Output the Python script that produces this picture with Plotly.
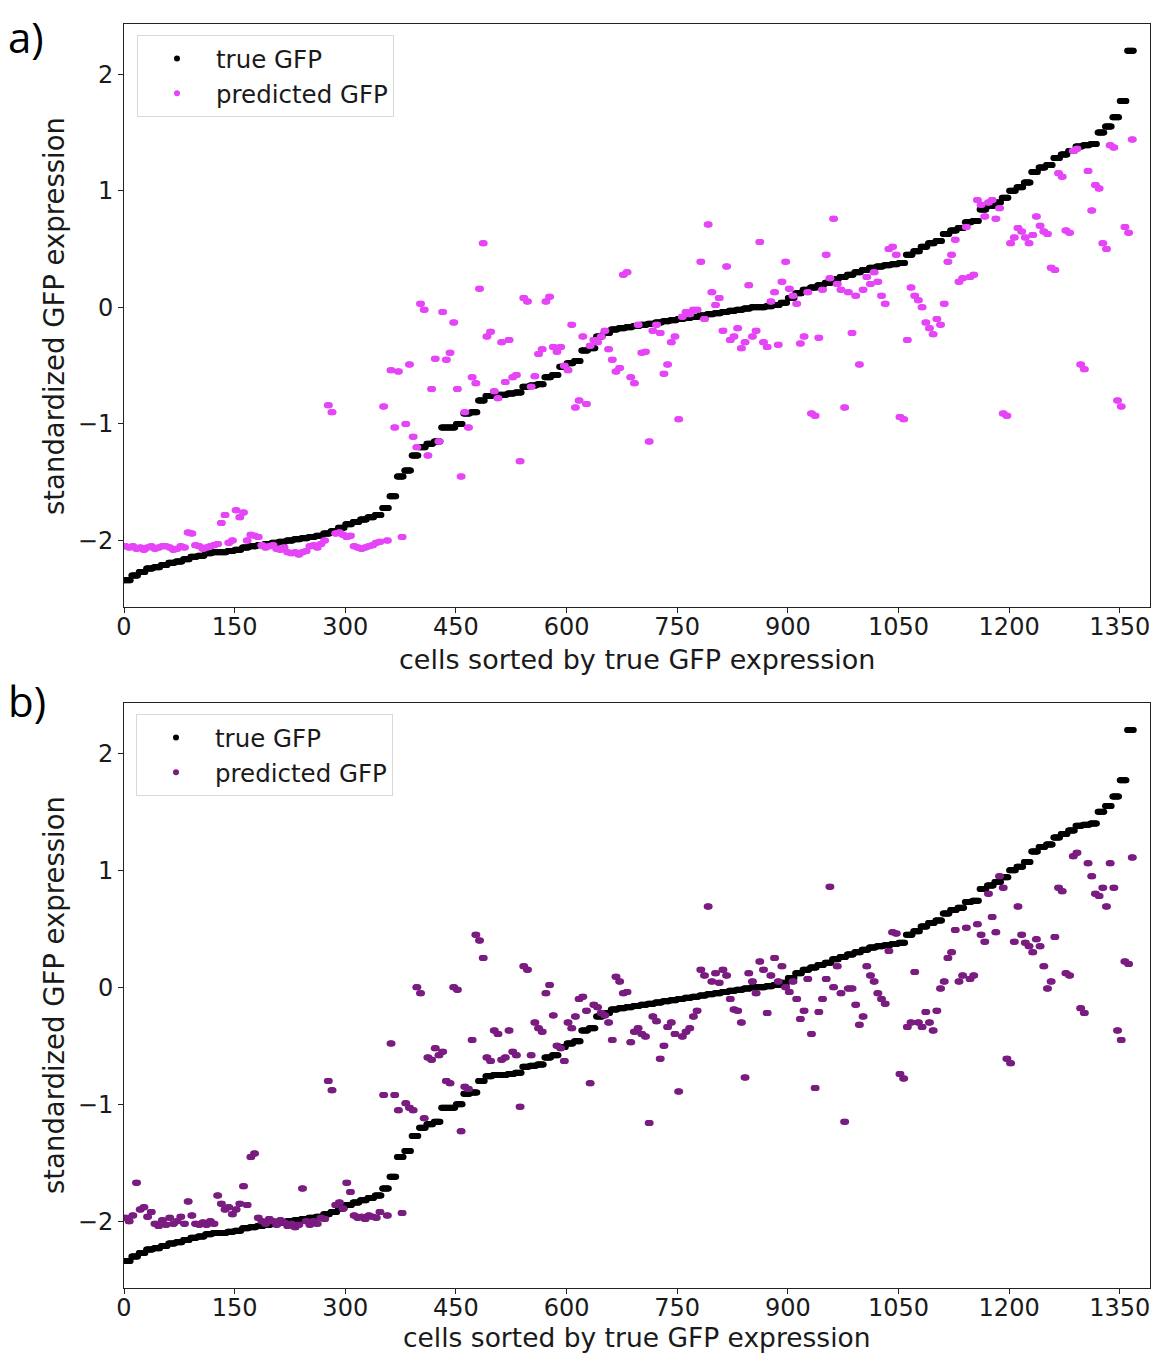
import numpy as np
import plotly.graph_objects as go

# ---------------- data ----------------
n_cells = 1370
true_group_size = 10      # cells per true-GFP step
pred_block_size = 5       # cells per predicted block

true_vals = [
    -2.34, -2.30, -2.27, -2.24, -2.23, -2.21, -2.19, -2.18, -2.16, -2.14,
    -2.13, -2.11, -2.10, -2.10, -2.09, -2.08, -2.06, -2.05, -2.04, -2.03,
    -2.02, -2.01, -2.00, -1.99, -1.98, -1.97, -1.96, -1.94, -1.92, -1.89,
    -1.86, -1.84, -1.82, -1.80, -1.78, -1.72, -1.62, -1.45, -1.40, -1.27,
    -1.20, -1.17, -1.15, -1.03, -1.03, -1.00, -0.91, -0.90, -0.80, -0.76,
    -0.75, -0.75, -0.74, -0.73, -0.68, -0.67, -0.66, -0.60, -0.58, -0.51,
    -0.48, -0.46, -0.37, -0.35, -0.25, -0.22, -0.19, -0.18, -0.17, -0.16,
    -0.15, -0.14, -0.13, -0.12, -0.11, -0.10, -0.09, -0.08, -0.07, -0.06,
    -0.05, -0.04, -0.03, -0.02, -0.01, 0.00, 0.00, 0.01, 0.02, 0.04,
    0.08, 0.12, 0.15, 0.17, 0.19, 0.21, 0.24, 0.26, 0.28, 0.30,
    0.32, 0.34, 0.35, 0.36, 0.37, 0.38, 0.45, 0.48, 0.52, 0.55,
    0.57, 0.63, 0.66, 0.68, 0.73, 0.74, 0.84, 0.87, 0.90, 0.94,
    1.00, 1.03, 1.07, 1.16, 1.20, 1.22, 1.28, 1.31, 1.34, 1.38,
    1.39, 1.40, 1.50, 1.55, 1.63, 1.77, 2.20,
]

pred_a_vals = [
    -2.05, -2.06, -2.05, -2.07, -2.06, -2.08, -2.06, -2.05, -2.07, -2.06,
    -2.05, -2.05, -2.06, -2.08, -2.07, -2.05, -2.06, -1.93, -1.94, -2.04,
    -2.05, -2.07, -2.06, -2.05, -2.04, -2.03, -1.85, -1.78, -2.02, -2.00,
    -1.74, -1.80, -1.76, -2.00, -1.95, -1.96, -1.97, -2.04, -2.06, -2.05,
    -2.04, -2.07, -2.08, -2.06, -2.10, -2.11, -2.10, -2.12, -2.10, -2.09,
    -2.05, -2.04, -2.06, -2.03, -2.00, -0.84, -0.90, -1.94, -1.93, -1.95,
    -1.97, -1.96, -2.05, -2.06, -2.07, -2.06, -2.05, -2.04, -2.02, -2.01,
    -0.85, -2.00, -0.54, -1.03, -0.55, -1.97, -1.00, -0.49, -1.11, -1.20,
    0.03, -0.02, -1.27, -0.70, -0.44, -1.15, -0.04, -0.45, -0.39, -0.13,
    -0.70, -1.45, -0.90, -1.03, -0.60, -0.65, 0.16, 0.55, -0.25, -0.21,
    -0.72, -0.78, -0.30, -0.64, -0.28, -0.60, -0.58, -1.32, 0.08, 0.05,
    -0.68, -0.59, -0.40, -0.36, 0.05, 0.09, -0.34, -0.38, -0.34, -0.50,
    -0.54, -0.15, -0.86, -0.80, -0.25, -0.83, -0.33, -0.28, -0.30, -0.25,
    -0.20, -0.36, -0.45, -0.55, -0.52, 0.28, 0.30, -0.60, -0.65, -0.15,
    -0.39, -0.38, -1.15, -0.20, -0.15, -0.22, -0.57, -0.49, -0.30, -0.25,
    -0.96, -0.08, -0.04, -0.06, -0.02, -0.02, 0.39, -0.10, 0.71, 0.13,
    0.02, 0.08, -0.20, 0.35, -0.28, -0.25, -0.18, -0.35, -0.30, 0.19,
    -0.25, -0.20, 0.56, -0.30, -0.34, 0.05, 0.13, -0.32, 0.22, 0.39,
    0.16, 0.10, 0.03, -0.31, -0.25, 0.13, -0.91, -0.93, -0.26, 0.15,
    0.45, 0.25, 0.76, 0.20, 0.15, -0.86, 0.13, -0.22, 0.10, -0.49,
    0.15, 0.26, 0.20, 0.30, 0.22, 0.10, 0.03, 0.50, 0.52, 0.45,
    -0.94, -0.96, -0.28, 0.17, 0.10, 0.06, 0.00, -0.13, -0.18, -0.23,
    -0.10, -0.15, 0.03, 0.39, 0.45, 0.58, 0.22, 0.25, 0.69, 0.26,
    0.28, 0.92, 0.88, 0.78, 0.90, 0.92, 0.76, 0.85, -0.91, -0.93,
    0.55, 0.60, 0.68, 0.65, 0.60, 0.55, 0.62, 0.78, 0.70, 0.65,
    0.63, 0.34, 0.32, 1.15, 1.12, 0.66, 0.64, 1.34, 1.36, -0.49,
    -0.53, 1.17, 0.83, 1.05, 1.02, 0.55, 0.50, 1.39, 1.37, -0.80,
    -0.85, 0.69, 0.64, 1.44,
]

pred_b_vals = [
    -1.97, -2.00, -1.95, -1.67, -1.90, -1.88, -1.96, -1.92, -2.02, -2.04,
    -1.99, -2.03, -1.97, -2.02, -2.00, -1.96, -2.02, -1.83, -1.95, -2.02,
    -2.03, -2.01, -2.03, -2.00, -2.02, -1.78, -1.85, -1.90, -1.88, -1.94,
    -1.90, -1.85, -1.70, -1.86, -1.45, -1.42, -1.97, -2.00, -2.02, -1.98,
    -2.00, -2.03, -1.99, -2.01, -2.04, -2.02, -2.05, -2.03, -1.72, -2.00,
    -2.03, -2.00, -2.02, -1.97, -1.98, -0.80, -0.88, -1.86, -1.84, -1.89,
    -1.67, -1.75, -1.95, -1.97, -1.96, -1.98, -1.95, -1.96, -1.97, -1.92,
    -0.92, -1.95, -0.48, -0.92, -1.05, -1.93, -0.99, -1.03, -1.05, 0.00,
    -0.05, -1.12, -0.60, -0.62, -0.52, -0.58, -0.55, -0.80, -0.82, 0.00,
    -0.02, -1.23, -0.85, -0.87, -0.45, 0.45, 0.40, 0.25, -0.60, -0.63,
    -0.37, -0.40, -0.62, -0.60, -0.37, -0.55, -0.58, -1.02, 0.18, 0.15,
    -0.58, -0.30, -0.35, -0.38, -0.05, 0.02, -0.24, -0.50, -0.52, -0.63,
    -0.30, -0.35, -0.25, -0.10, -0.08, -0.20, -0.82, -0.15, -0.17, -0.22,
    -0.24, -0.30, -0.45, 0.09, 0.05, -0.05, -0.04, -0.47, -0.38, -0.35,
    -0.40, -0.42, -1.16, -0.25, -0.29, -0.61, -0.50, -0.34, -0.30, -0.40,
    -0.89, -0.42, -0.38, -0.35, -0.25, -0.20, 0.15, 0.10, 0.69, 0.05,
    0.12, 0.04, 0.15, 0.10, -0.10, -0.19, -0.20, -0.30, -0.77, 0.12,
    0.05, -0.05, 0.22, 0.15, -0.22, 0.10, 0.25, 0.05, 0.18, 0.00,
    -0.04, 0.05, -0.10, -0.27, -0.20, 0.07, -0.40, -0.86, -0.21, -0.10,
    0.07, 0.86, 0.00, 0.18, -0.05, -1.15, -0.01, -0.01, -0.15, -0.32,
    -0.25, 0.18, 0.10, 0.05, -0.05, -0.10, -0.14, 0.31, 0.47, 0.46,
    -0.74, -0.78, -0.34, -0.30, 0.13, -0.30, -0.34, -0.21, -0.30, -0.37,
    -0.20, -0.01, 0.05, 0.25, 0.30, 0.49, 0.05, 0.10, 0.51, 0.07,
    0.10, 0.54, 0.45, 0.39, 0.80, 0.60, 0.47, 0.95, 0.85, -0.61,
    -0.65, 0.39, 0.69, 0.45, 0.38, 0.35, 0.30, 0.41, 0.35, 0.18,
    -0.01, 0.05, 0.43, 0.85, 0.82, 0.12, 0.10, 1.12, 1.15, -0.18,
    -0.22, 1.06, 0.95, 0.80, 0.78, 0.85, 0.69, 1.06, 0.85, -0.37,
    -0.45, 0.22, 0.20, 1.11,
]

x_ticks = [0, 150, 300, 450, 600, 750, 900, 1050, 1200, 1350]
y_ticks = [-2, -1, 0, 1, 2]
y_tick_text = ["\u22122", "\u22121", "0", "1", "2"]

# ---------------- expand blocks to cells ----------------
cells = np.arange(n_cells)
true_gfp = np.repeat(true_vals, true_group_size)[:n_cells]
pred_a = np.repeat(pred_a_vals, pred_block_size)[:n_cells]
pred_b = np.repeat(pred_b_vals, pred_block_size)[:n_cells]

W, H = 1154, 1353
def px(v):  # horizontal pixel -> paper
    return v / W
def py(v):  # vertical pixel (from top) -> paper
    return 1 - v / H

MAGENTA = "#e645f7"
PURPLE = "#7a1c80"
FONT = "DejaVu Sans"
TXT = "#1a1a1a"

fig = go.Figure()
fig.add_trace(go.Scatter(x=cells, y=true_gfp, mode="markers", name="true GFP",
                         marker=dict(color="black", size=6), xaxis="x", yaxis="y",
                         legend="legend"))
fig.add_trace(go.Scatter(x=cells, y=pred_a, mode="markers", name="predicted GFP",
                         marker=dict(color=MAGENTA, size=6), xaxis="x", yaxis="y",
                         legend="legend"))
fig.add_trace(go.Scatter(x=cells, y=true_gfp, mode="markers", name="true GFP",
                         marker=dict(color="black", size=6), xaxis="x2", yaxis="y2",
                         legend="legend2"))
fig.add_trace(go.Scatter(x=cells, y=pred_b, mode="markers", name="predicted GFP",
                         marker=dict(color=PURPLE, size=6), xaxis="x2", yaxis="y2",
                         legend="legend2"))

xdom = [px(124), px(1150)]
axis_common = dict(showline=True, mirror=True, linecolor="#222", linewidth=1,
                   ticks="outside", ticklen=5, tickcolor="#222", showgrid=False,
                   zeroline=False, automargin=False,
                   tickfont=dict(family=FONT, size=24, color=TXT))

legend_common = dict(xanchor="left", yanchor="top",
                     bgcolor="white", bordercolor="#d8d8d8", borderwidth=1,
                     font=dict(family=FONT, size=24.5, color=TXT), itemwidth=68,
                     tracegroupgap=0)

fig.update_layout(
    width=W, height=H, margin=dict(l=0, r=0, t=0, b=0, autoexpand=False),
    plot_bgcolor="white", paper_bgcolor="white",
    showlegend=True,
    xaxis=dict(domain=xdom, anchor="y", range=[0, 1391], tickvals=x_ticks,
               ticklabelstandoff=-7, **axis_common),
    yaxis=dict(domain=[py(607), py(24)], anchor="x", range=[-2.57, 2.43],
               tickvals=y_ticks, ticktext=y_tick_text, **axis_common),
    xaxis2=dict(domain=xdom, anchor="y2", range=[0, 1391], tickvals=x_ticks,
                ticklabelstandoff=-7, **axis_common),
    yaxis2=dict(domain=[py(1288), py(703)], anchor="x2", range=[-2.57, 2.43],
                tickvals=y_ticks, ticktext=y_tick_text, **axis_common),
    legend=dict(x=px(137), y=py(35), **legend_common),
    legend2=dict(x=px(136), y=py(714), **legend_common),
)

annotations = [
    dict(text="a)", x=px(6), y=py(36), xanchor="left", yanchor="middle",
         font=dict(family="Open Sans", size=42, color="black")),
    dict(text="b)", x=px(6), y=py(700), xanchor="left", yanchor="middle",
         font=dict(family="Open Sans", size=42, color="black")),
    dict(text="cells sorted by true GFP expression", x=px(637), y=py(659),
         xanchor="center", yanchor="middle",
         font=dict(family=FONT, size=27, color=TXT)),
    dict(text="cells sorted by true GFP expression", x=px(637), y=py(1337),
         xanchor="center", yanchor="middle",
         font=dict(family=FONT, size=26.5, color=TXT)),
    dict(text="standardized GFP expression", x=px(54), y=py(316), textangle=-90,
         xanchor="center", yanchor="middle",
         font=dict(family=FONT, size=27.5, color=TXT)),
    dict(text="standardized GFP expression", x=px(54), y=py(995), textangle=-90,
         xanchor="center", yanchor="middle",
         font=dict(family=FONT, size=27.5, color=TXT)),
]
for a in annotations:
    a.update(xref="paper", yref="paper", showarrow=False)
fig.update_layout(annotations=annotations)

fig.write_html("out.html")
